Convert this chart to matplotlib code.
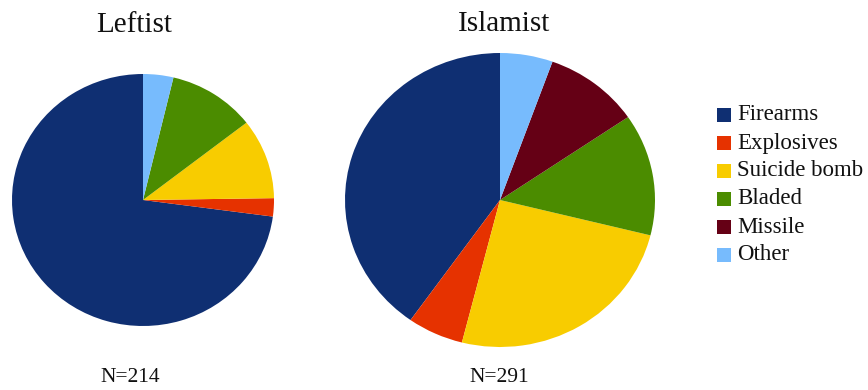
import matplotlib
matplotlib.use("Agg")
import matplotlib.pyplot as plt
from matplotlib.patches import Rectangle

# Attack weapon types by ideology
categories = ["Firearms", "Explosives", "Suicide bomb", "Bladed", "Missile", "Other"]
colors = ["#0f2f72", "#e63200", "#f8cc00", "#4b8c00", "#650015", "#77bbfd"]

leftist_counts = [156, 5, 22, 23, 0, 8]
islamist_counts = [117, 17, 73, 39, 29, 16]

groups = ["Leftist", "Islamist"]
group_n = ["N=214", "N=291"]

W, H = 868, 390
fig = plt.figure(figsize=(W / 100, H / 100), dpi=100)
fig.patch.set_facecolor("white")
plt.rcParams["font.family"] = ["Liberation Serif", "DejaVu Serif"]


def px_axes(cx, cy, rx, ry):
    """Axes whose unit circle maps to an ellipse centred at (cx, cy) px."""
    ax = fig.add_axes([(cx - rx) / W, (H - cy - ry) / H, 2 * rx / W, 2 * ry / H])
    return ax


def fig_text(x, y, s, **kw):
    fig.text(x / W, 1 - y / H, s, **kw)


# pie geometry (pixels): centre x, centre y, x radius, y radius
layout = [(143, 200, 131, 126), (500, 200, 155, 147)]
title_pos = [(134, 25), (504, 24)]
n_pos = [(130, 377), (499, 377)]

for counts, (cx, cy, rx, ry), name, n, tp, npos in zip(
        [leftist_counts, islamist_counts], layout, groups, group_n, title_pos, n_pos):
    ax = px_axes(cx, cy, rx, ry)
    ax.pie(counts, colors=colors, startangle=90, counterclock=True,
           radius=1.0, wedgeprops=dict(linewidth=0))
    ax.set_aspect("auto")
    ax.set_xlim(-1, 1)
    ax.set_ylim(-1, 1)
    ax.axis("off")
    fig_text(tp[0], tp[1], name, fontsize=21, ha="center", va="center", color="#111111")
    fig_text(npos[0], npos[1], n, fontsize=15.5, ha="center", va="center", color="#111111")

# legend
leg_x, leg_y0, leg_dy, sq = 717, 115, 28, 14
for i, (cat, col) in enumerate(zip(categories, colors)):
    y = leg_y0 + i * leg_dy
    fig.patches.append(Rectangle(((leg_x) / W, 1 - (y + sq / 2) / H), sq / W, sq / H,
                                 transform=fig.transFigure, facecolor=col,
                                 edgecolor="none"))
    fig_text(leg_x + 20, y, cat, fontsize=16.5, ha="left", va="center", color="#111111")

fig.savefig("out.png", dpi=100, facecolor="white")
